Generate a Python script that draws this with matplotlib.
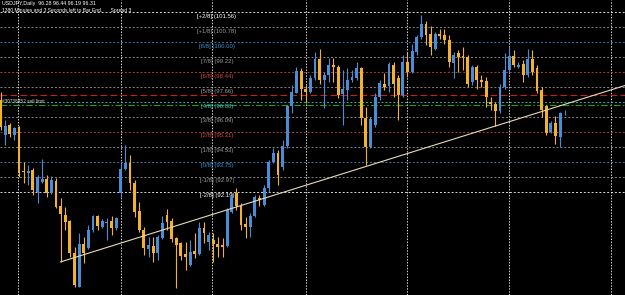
import numpy as np
import matplotlib.pyplot as plt

plt.rcParams['font.family'] = ['Liberation Sans', 'DejaVu Sans']

# daily USDJPY candles (oldest first)
opens = [96.97, 95.15, 95.67, 95.15, 95.55, 93.25, 93.15, 93.32, 92.19, 92.71,
         92.84, 92.11, 92.76, 91.44, 90.97, 90.68, 89.01, 87.23, 89.46, 89.24,
         90.19, 90.92, 90.33, 90.56, 90.68, 90.28, 92.11, 93.36, 93.67, 92.66,
         91.18, 90.19, 89.18, 89.36, 88.98, 89.76, 90.97, 90.68, 89.76, 89.50,
         88.92, 88.37, 89.11, 88.94, 90.28, 89.58, 89.67, 89.46, 89.41, 89.36,
         91.15, 92.11, 91.44, 90.50, 90.36, 90.92, 91.84, 91.50, 92.37, 93.75,
         94.19, 93.48, 94.57, 96.66, 97.36, 98.50, 97.58, 97.41, 98.11, 99.10,
         98.02, 98.28, 98.80, 98.71, 97.27, 97.49, 98.02, 98.11, 98.63, 96.02,
         94.54, 95.67, 97.15, 97.84, 97.70, 98.80, 98.11, 97.23, 98.97, 98.45,
         99.49, 100.28, 100.94, 100.45, 99.67, 100.45, 100.36, 100.10, 98.92, 99.41,
         99.27, 99.23, 97.93, 98.71, 98.02, 97.98, 96.85, 96.75, 96.41, 97.64,
         98.57, 99.27, 98.71, 98.85, 98.28, 99.10, 98.63, 97.49, 96.66, 95.32,
         95.79, 95.06, 96.28]
highs = [97.39, 95.93, 95.77, 95.58, 95.62, 93.75, 93.58, 93.43, 93.06, 93.90,
         93.06, 93.01, 92.90, 91.86, 91.39, 90.71, 89.32, 90.02, 89.84, 90.45,
         90.97, 90.97, 90.76, 90.82, 90.92, 90.85, 93.69, 94.63, 94.10, 92.80,
         91.67, 90.36, 89.84, 89.84, 89.93, 90.92, 91.29, 90.82, 89.84, 89.58,
         89.58, 89.67, 90.05, 90.58, 90.62, 90.10, 90.02, 89.84, 89.76, 91.32,
         92.11, 92.37, 91.58, 90.88, 91.06, 92.02, 92.02, 92.54, 93.84, 94.45,
         94.36, 94.89, 96.71, 97.76, 98.71, 98.63, 97.76, 98.28, 99.49, 99.67,
         98.45, 99.15, 99.15, 98.80, 98.54, 98.63, 98.54, 98.97, 98.71, 96.62,
         96.10, 97.32, 98.02, 98.37, 98.97, 98.97, 98.28, 99.32, 99.49, 99.93,
         100.36, 101.41, 101.11, 100.83, 100.54, 100.71, 100.71, 100.36, 99.49, 99.58,
         99.75, 99.32, 98.80, 98.80, 98.28, 98.19, 97.15, 96.88, 97.84, 99.41,
         99.75, 99.58, 98.97, 99.06, 99.67, 99.58, 98.80, 97.64, 96.71, 95.89,
         96.14, 96.36, 96.44]
lows = [95.41, 94.63, 95.04, 94.89, 92.97, 92.63, 92.54, 92.02, 91.58, 92.63,
        91.93, 92.05, 91.32, 88.52, 90.19, 88.80, 87.23, 87.20, 88.47, 89.20,
        90.10, 90.19, 90.28, 89.67, 89.93, 90.19, 91.91, 93.32, 92.28, 90.87,
        90.10, 88.89, 88.80, 88.54, 88.63, 89.72, 90.19, 89.58, 87.17, 88.63,
        88.10, 88.28, 88.73, 88.89, 89.50, 89.15, 88.54, 88.80, 88.80, 89.32,
        91.06, 91.23, 90.19, 89.76, 89.84, 90.88, 91.44, 91.44, 92.19, 93.67,
        92.54, 93.32, 94.47, 96.28, 97.32, 96.97, 96.82, 97.32, 98.02, 97.84,
        96.56, 97.93, 97.93, 97.06, 95.67, 96.97, 97.93, 98.02, 95.67, 93.58,
        94.45, 95.58, 96.97, 97.49, 97.41, 97.15, 95.93, 97.15, 98.19, 98.37,
        99.32, 100.19, 99.84, 99.32, 99.58, 100.19, 99.93, 98.71, 98.11, 98.45,
        98.54, 97.64, 97.76, 97.58, 97.64, 96.61, 96.45, 95.62, 96.28, 97.58,
        98.45, 98.71, 98.63, 97.93, 98.19, 98.28, 97.32, 96.07, 95.15, 95.24,
        94.68, 94.54, 96.19]
closes = [95.56, 95.63, 95.18, 95.53, 93.18, 93.22, 93.28, 92.28, 92.96, 92.85,
          92.14, 92.80, 91.41, 91.03, 90.62, 89.01, 87.32, 89.46, 89.01, 90.19,
          90.94, 90.40, 90.66, 90.61, 90.28, 90.80, 93.37, 93.67, 92.63, 91.15,
          90.19, 89.24, 89.41, 89.01, 89.84, 90.57, 90.62, 89.71, 89.41, 88.83,
          88.80, 89.06, 88.94, 90.28, 90.02, 89.93, 89.46, 89.32, 89.32, 91.23,
          91.93, 91.44, 90.45, 90.33, 90.92, 91.93, 91.76, 92.37, 93.75, 94.19,
          93.06, 94.60, 96.64, 97.38, 98.52, 97.53, 97.41, 98.11, 99.10, 98.02,
          98.28, 98.80, 98.68, 97.23, 97.53, 98.02, 98.19, 98.63, 96.02, 94.54,
          95.97, 97.15, 97.88, 97.64, 98.85, 97.84, 97.23, 98.97, 98.45, 99.55,
          100.28, 100.97, 100.36, 99.75, 100.45, 100.31, 100.10, 98.97, 99.32, 99.23,
          99.20, 97.84, 98.71, 98.02, 97.93, 97.15, 96.75, 96.41, 97.64, 98.57,
          99.27, 98.80, 98.80, 98.28, 99.10, 98.45, 97.46, 96.45, 95.24, 95.79,
          95.09, 96.28, 96.31]

# Murrey math levels
levels = [101.5625, 100.78125, 100.0, 99.21875, 98.4375, 97.65625, 96.875,
          96.09375, 95.3125, 94.53125, 93.75, 92.96875, 92.1875]
level_names = ['[+2/8]', '[+1/8]', '[8/8]', '[7/8]', '[6/8]', '[5/8]', '[4/8]',
               '[3/8]', '[2/8]', '[1/8]', '[0/8]', '[-1/8]', '[-2/8]']
level_colors = ['#ffffff', '#9a9a9a', '#3f8fd2', '#9a9a9a', '#d04848', '#9a9a9a', '#40c8c8',
                '#9a9a9a', '#d04848', '#9a9a9a', '#3f8fd2', '#9a9a9a', '#ffffff']

stop_price = 97.26
limit_price = 96.70
trend_bars = [13, 107]
trend_prices = [88.52, 95.62]
grid_bars = [3.85, 26.0, 45.8, 66.0, 88.0, 110.0, 132.0]

bull_col = '#4a8dd4'
bear_col = '#f2b22a'

fig = plt.figure(figsize=(6.25, 2.95), dpi=100)
fig.patch.set_facecolor('black')
ax = fig.add_axes([0, 0, 1, 1])
ax.set_facecolor('black')
for s in ax.spines.values():
    s.set_visible(False)
ax.set_xticks([])
ax.set_yticks([])
ax.set_xlim(-0.11, 135.03)
ax.set_ylim(86.79, 102.205)

# grid
for gx in grid_bars:
    ax.axvline(gx, color='#d8d8d8', lw=0.7, ls=(0, (1.5, 1.5)), zorder=1)

# levels + labels
for lv, name, col in zip(levels, level_names, level_colors):
    ax.axhline(lv, color=col, lw=0.7, ls=(0, (2, 2)), alpha=0.85, zorder=1)
    ax.text(46.8, lv - 0.08, f'{name} ({lv:.2f})', color=col, fontsize=4.3,
            ha='center', va='top', zorder=2)

# order lines
ax.axhline(stop_price, color='#c81e1e', lw=0.8, ls=(0, (6, 3)), zorder=1)
ax.axhline(limit_price, color='#1ea01e', lw=0.8, ls=(0, (6, 2, 1.5, 2)), zorder=1)
ax.text(0.4, limit_price + 0.05, '#30738452 sell limit', color='#d0d0d0',
        fontsize=3.4, ha='left', va='bottom', zorder=2)

# candles
o = np.array(opens)
h = np.array(highs)
l = np.array(lows)
c = np.array(closes)
idx = np.arange(len(o))
cols = np.where(c >= o, bull_col, bear_col)
ax.vlines(idx, l, h, colors=cols, lw=0.8, zorder=3)
body_lo = np.minimum(o, c)
body_h = np.maximum(np.abs(c - o), 0.04)
ax.bar(idx, body_h, bottom=body_lo, width=0.62, color=cols, linewidth=0, zorder=4)

# trend line (ray to the right)
slope = (trend_prices[1] - trend_prices[0]) / (trend_bars[1] - trend_bars[0])
x_end = 140
ax.plot([trend_bars[0], x_end],
        [trend_prices[0], trend_prices[0] + slope * (x_end - trend_bars[0])],
        color='#e8d8b8', lw=0.8, zorder=5)

# header text
fig.text(2 / 625, 1 - 3.8 / 295, 'USDJPY,Daily  96.28 96.44 96.19 96.31',
         color='white', fontsize=3.8, ha='left', va='center')
fig.text(2 / 625, 1 - 10.3 / 295,
         '1380 Minutes and 3 Seconds left to Bar End.      Spread 3',
         color='white', fontsize=3.6, ha='left', va='center')

fig.savefig('out.png', dpi=100, facecolor='black')
